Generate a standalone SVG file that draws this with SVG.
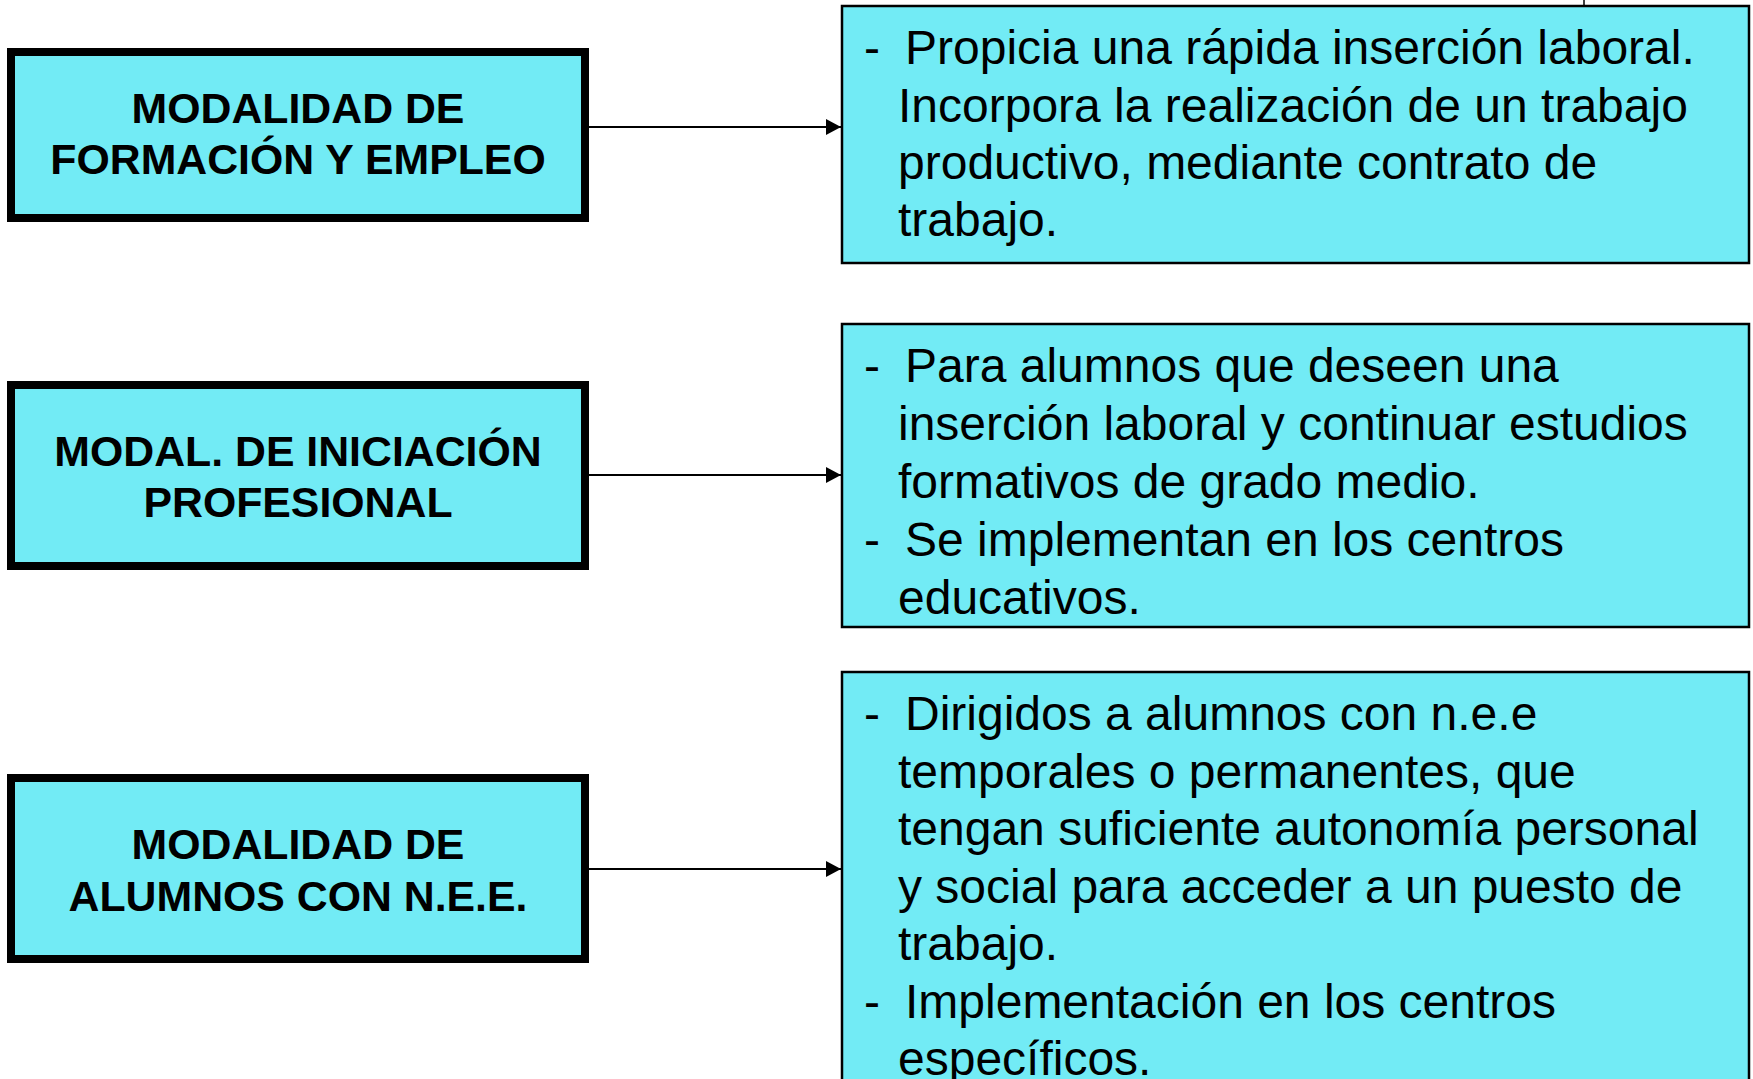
<svg xmlns="http://www.w3.org/2000/svg" width="1753" height="1079" viewBox="0 0 1753 1079">
<style>
.lbox{fill:#72EBF5;stroke:#000;stroke-width:8}
.rbox{fill:#72EBF5;stroke:#000;stroke-width:2.5}
.lt{font-family:"Liberation Sans",Arial,sans-serif;font-weight:bold;font-size:42.8px;text-anchor:middle;fill:#000}
.rt{font-family:"Liberation Sans",Arial,sans-serif;font-size:48px;fill:#000}
.conn{stroke:#000;stroke-width:2;fill:none}
</style>
<defs>
<marker id="arr" markerWidth="16" markerHeight="16" refX="15" refY="8" orient="auto" markerUnits="userSpaceOnUse">
<path d="M0,0 L15,8 L0,16 Z" fill="#000"/>
</marker>
</defs>
<rect width="1753" height="1079" fill="#fff"/>
<g id="connectors">
<line class="conn" x1="589" y1="127" x2="841" y2="127" marker-end="url(#arr)"/>
<line class="conn" x1="589" y1="475" x2="841" y2="475" marker-end="url(#arr)"/>
<line class="conn" x1="589" y1="869" x2="841" y2="869" marker-end="url(#arr)"/>
<line x1="1584" y1="0" x2="1584" y2="6" stroke="#000" stroke-width="1.5"/>
</g>
<g id="node-formacion-empleo">
<rect class="lbox" x="11" y="52" width="574" height="166"/>
<text class="lt" x="298" y="123">MODALIDAD DE</text>
<text class="lt" x="298" y="174">FORMACIÓN Y EMPLEO</text>
</g>
<g id="node-iniciacion">
<rect class="lbox" x="11" y="385" width="574" height="181"/>
<text class="lt" x="298" y="466">MODAL. DE INICIACIÓN</text>
<text class="lt" x="298" y="517">PROFESIONAL</text>
</g>
<g id="node-nee">
<rect class="lbox" x="11" y="778" width="574" height="181"/>
<text class="lt" x="298" y="859">MODALIDAD DE</text>
<text class="lt" x="298" y="911">ALUMNOS CON N.E.E.</text>
</g>
<g id="node-desc-formacion">
<rect class="rbox" x="842" y="6" width="907" height="257"/>
<text class="rt" x="864" y="64">-</text>
<text class="rt" x="905" y="64">Propicia una rápida inserción laboral.</text>
<text class="rt" x="898" y="122">Incorpora la realización de un trabajo</text>
<text class="rt" x="898" y="179">productivo, mediante contrato de</text>
<text class="rt" x="898" y="236">trabajo.</text>
</g>
<g id="node-desc-iniciacion">
<rect class="rbox" x="842" y="324" width="907" height="303"/>
<text class="rt" x="864" y="382">-</text>
<text class="rt" x="905" y="382">Para alumnos que deseen una</text>
<text class="rt" x="898" y="440">inserción laboral y continuar estudios</text>
<text class="rt" x="898" y="498">formativos de grado medio.</text>
<text class="rt" x="864" y="556">-</text>
<text class="rt" x="905" y="556">Se implementan en los centros</text>
<text class="rt" x="898" y="614">educativos.</text>
</g>
<g id="node-desc-nee">
<rect class="rbox" x="842" y="672" width="907" height="420"/>
<text class="rt" x="864" y="730">-</text>
<text class="rt" x="905" y="730">Dirigidos a alumnos con n.e.e</text>
<text class="rt" x="898" y="788">temporales o permanentes, que</text>
<text class="rt" x="898" y="845">tengan suficiente autonomía personal</text>
<text class="rt" x="898" y="903">y social para acceder a un puesto de</text>
<text class="rt" x="898" y="960">trabajo.</text>
<text class="rt" x="864" y="1018">-</text>
<text class="rt" x="905" y="1018">Implementación en los centros</text>
<text class="rt" x="898" y="1075">específicos.</text>
</g>
</svg>
